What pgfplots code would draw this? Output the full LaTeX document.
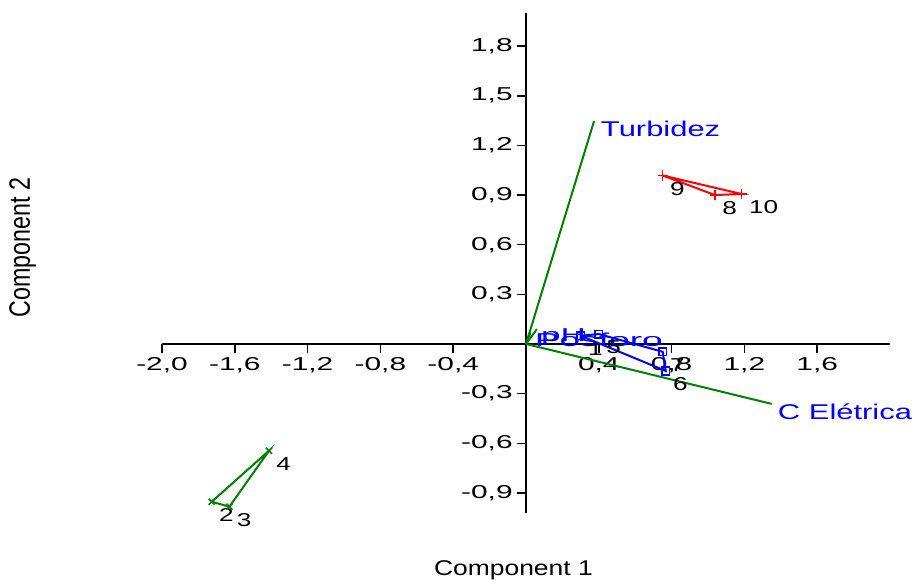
\documentclass[border=0pt]{standalone}
\usepackage{pgfplots}
\pgfplotsset{compat=1.18}
\usepackage{fontspec}
\setmainfont{Liberation Sans}
\definecolor{pgreen}{RGB}{0,128,0}
\definecolor{pblue}{RGB}{0,0,255}
\definecolor{pred}{RGB}{255,0,0}

\pgfplotstableread{
x y label
-1.727 -0.953 2
-1.630 -0.983 3
-1.412 -0.645 4
}\greengrp
\pgfplotstableread{
x y label
0.751 1.018 9
1.038 0.900 8
1.185 0.906 10
}\redgrp
\pgfplotstableread{
x y label
0.300 0.050 1
0.400 0.060 5
0.751 -0.047 7
0.768 -0.163 6
}\bluegrp

\begin{document}
\begin{tikzpicture}
\useasboundingbox (-394.5pt,-177pt) rectangle (291pt,258pt);
\begin{axis}[
  at={(0pt,0pt)}, anchor=origin,
  scale only axis, width=546pt, height=374.9pt,
  xmin=-2, xmax=2, ymin=-1.02, ymax=2,
  axis lines=middle,
  axis line style={line width=1.5pt,-},
  tick align=outside, major tick length=6.5pt,
  tick style={line width=1.2pt, black},
  xtick={-2,-1.6,-1.2,-0.8,-0.4,0.4,0.8,1.2,1.6},
  ytick={-0.9,-0.6,-0.3,0.3,0.6,0.9,1.2,1.5,1.8},
  /pgf/number format/.cd, fixed, fixed zerofill, precision=1, use comma, assume math mode=true,
  /pgfplots/.cd,
  ticklabel style={font=\fontsize{14}{16}\selectfont},
  xticklabel={\scalebox{1.6}[1]{\axisdefaultticklabel}},
  yticklabel={\scalebox{1.6}[1]{\axisdefaultticklabel}},
  clip=false,
  every node near coord/.style={anchor=north west, inner sep=0pt, xshift=5pt, yshift=-4.5pt, font=\fontsize{14}{16}\selectfont, text=black},
]
% loading vectors
\addplot[pgreen, line width=1.5pt] coordinates {(0,0) (0.374,1.347)};
\addplot[pgreen, line width=1.5pt] coordinates {(0,0) (1.350,-0.362)};
\addplot[pgreen, line width=1.5pt] coordinates {(0,0) (0.060,0.090)};
\addplot[pgreen, line width=1.5pt] coordinates {(0,0) (0.025,0.070)};

% convex hulls
\addplot[pgreen, line width=1.5pt] coordinates {(-1.727,-0.953) (-1.630,-0.983) (-1.412,-0.645) (-1.727,-0.953)};
\addplot[pred, line width=1.5pt] coordinates {(0.751,1.018) (1.038,0.900) (1.185,0.906) (0.751,1.018)};
\addplot[pblue, line width=1.5pt] coordinates {(0.300,0.050) (0.400,0.060) (0.751,-0.047) (0.768,-0.163) (0.300,0.050)};

% points
\addplot[pgreen, only marks, mark=x, mark size=3.2pt, mark options={line width=1.2pt},
  nodes near coords={\scalebox{1.4}[1]{\pgfplotspointmeta}}, point meta=explicit symbolic]
  table[x=x, y=y, meta=label] {\greengrp};
\addplot[pred, only marks, mark=+, mark size=3.8pt, mark options={line width=1.2pt},
  nodes near coords={\scalebox{1.4}[1]{\pgfplotspointmeta}}, point meta=explicit symbolic]
  table[x=x, y=y, meta=label] {\redgrp};
\addplot[pblue, only marks, mark=square, mark size=2.8pt, mark options={line width=1.2pt},
  nodes near coords={\scalebox{1.4}[1]{\pgfplotspointmeta}}, point meta=explicit symbolic]
  table[x=x, y=y, meta=label] {\bluegrp};

% variable labels
\node[anchor=north west, inner sep=0pt, xshift=5pt, text=pblue, font=\fontsize{16}{18}\selectfont] at (axis cs:0.374,1.347) {\scalebox{1.45}[1]{Turbidez}};
\node[anchor=north west, inner sep=0pt, xshift=4.5pt, text=pblue, font=\fontsize{16}{18}\selectfont] at (axis cs:1.350,-0.362) {\scalebox{1.45}[1]{C Elétrica}};
\node[anchor=north west, inner sep=0pt, xshift=3pt, text=pblue, font=\fontsize{14}{16}\selectfont] at (axis cs:0.060,0.095) {\scalebox{1.88}[1]{pH}};
\node[anchor=north west, inner sep=0pt, xshift=3pt, text=pblue, font=\fontsize{14}{16}\selectfont] at (axis cs:0.025,0.070) {\scalebox{1.99}[1]{Posforo}};

% axis titles
\node[font=\fontsize{16}{18}\selectfont] at (axis cs:-0.069,-1.366) {\scalebox{1.24}[1]{Component 1}};
\node[rotate=90, font=\fontsize{16}{18}\selectfont] at (axis cs:-2.766,0.583) {\scalebox{1.09}[1.38]{Component 2}};
\end{axis}
\end{tikzpicture}
\end{document}
